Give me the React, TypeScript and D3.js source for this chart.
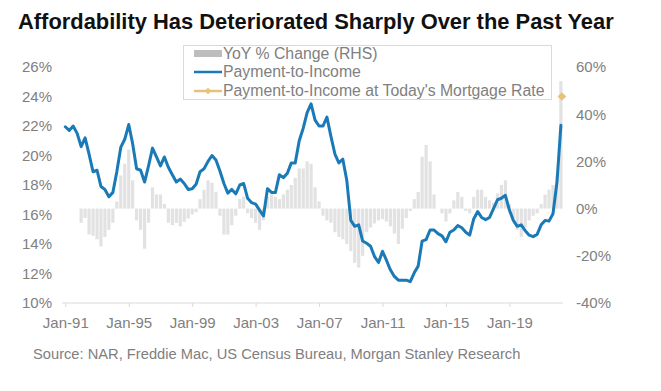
import { useEffect, useRef } from 'react'
import * as d3 from 'd3'

// quarterly readings, Jan-91 .. Apr-22
const START_YEAR = 1991

const paymentToIncome = [
  21.95, 21.7, 22.0, 21.5, 20.6, 21.2, 20.1, 18.9, 19.0, 17.9,
  17.7, 17.2, 17.5, 18.9, 20.55, 21.1, 22.1, 20.8, 19.1, 19.0,
  18.2, 19.3, 20.5, 19.9, 19.3, 19.9, 19.2, 18.7, 18.2, 18.4,
  18.1, 17.7, 17.75, 18.05, 18.9, 19.1, 19.6, 20.0, 19.7, 18.95,
  18.1, 17.45, 17.7, 17.4, 18.0, 18.1, 17.1, 16.8, 16.7, 16.3,
  15.9, 17.75, 17.5, 17.5, 18.7, 18.5, 18.8, 19.5, 19.5, 21.0,
  21.85, 22.9, 23.5, 22.4, 22.0, 22.0, 22.6, 21.3, 20.1, 19.5,
  19.75, 18.3, 15.6, 15.2, 15.3, 14.2, 14.05, 13.85, 13.15, 12.75,
  13.5, 12.9, 12.25, 11.8, 11.55, 11.55, 11.55, 11.45, 12.05, 12.5,
  14.2, 14.3, 14.95, 14.95, 14.7, 14.55, 14.15, 14.8, 14.95, 15.25,
  15.1, 14.8, 14.6, 15.7, 16.2, 15.8, 15.65, 15.8, 16.4, 17.0,
  17.1, 17.3, 16.3, 15.6, 15.2, 15.3, 14.9, 14.6, 14.5, 14.65,
  15.3, 15.6, 15.55, 16.05, 18.2, 22.05,
]

// YoY % change, starts Jan-92 (quarter index 4)
const yoyChange = [
  -6, -4, -11, -11.5, -13, -16, -12, -9, -6, 3,
  14, 19, 25, 12, -5, -9, -17, -6, 9, 6,
  6, 2, -6, -7, -6, -7.5, -5.6, -4.2, -2.5, -1.5,
  4, 8, 12, 11, 7, -3, -11, -11, -7, -3,
  4, 5, -2, -4, -6, -9, -5, 5, 6, 5,
  4, 6, 8, 10, 13, 17, 17, 20, 19, 9,
  3, -3, -5, -6, -10, -12, -13, -15, -18, -23,
  -25, -20, -10, -8, -6.3, -5, -4.5, -5.5, -7.5, -10.6,
  -15, -8.5, -4, -1, 4, 7, 22, 27, 20, 6,
  0, -2, -5.5, -2, 3.5, 7, 5, -1, -2, 5,
  8, 8, 5, 3.5, 2.5, 6.5, 10, 12, 2, -4,
  -9, -12, -8, -5, -3, -2, 2, 6, 8, 10,
  14, 54,
]
const YOY_OFFSET = 4

const todayRateValue = 24.0

const leftTicks = [10, 12, 14, 16, 18, 20, 22, 24, 26]
const rightTicks = [-40, -20, 0, 20, 40, 60]
const xTickYears = [1991, 1995, 1999, 2003, 2007, 2011, 2015, 2019]

const legendItems = ['YoY % Change (RHS)', 'Payment-to-Income', "Payment-to-Income at Today's Mortgage Rate"]

const COLORS = {
  blue: '#1a7ab7',
  bar: '#e2e2e2',
  barLegend: '#bdbdbd',
  gold: '#e6c27a',
  text: '#808080',
  axis: '#d9d9d9',
}

const FONT = '"Liberation Sans", Arial, sans-serif'

const qDate = (k: number) => new Date(START_YEAR, k * 3, 1)

export default function App() {
  const svgRef = useRef<SVGSVGElement>(null)

  useEffect(() => {
    if (!svgRef.current) return
    const svg = d3.select(svgRef.current)
    svg.selectAll('*').remove()

    const lineData = paymentToIncome.map((v, k) => ({ date: qDate(k), v }))
    const barData = yoyChange.map((v, i) => ({ date: qDate(i + YOY_OFFSET), v }))
    const lastDate = qDate(paymentToIncome.length - 1)

    const x = d3.scaleTime().domain([qDate(0), lastDate]).range([65.3, 560.9])
    const yL = d3.scaleLinear().domain([10, 26]).range([303, 67])
    const yR = d3.scaleLinear().domain([-40, 60]).range([303, 67])

    // Title
    svg.append('text').attr('x', 18).attr('y', 29)
      .attr('font-family', FONT).attr('font-size', 21.9).attr('font-weight', 'bold').attr('fill', '#111')
      .text('Affordability Has Deteriorated Sharply Over the Past Year')

    // Bars (RHS)
    svg.append('g').selectAll('rect').data(barData).join('rect')
      .attr('x', d => x(d.date) - 1.6)
      .attr('width', 3.2)
      .attr('y', d => yR(Math.max(0, d.v)))
      .attr('height', d => Math.abs(yR(d.v) - yR(0)))
      .attr('fill', COLORS.bar)

    // X axis
    const xAxis = svg.append('g').attr('transform', `translate(0,${yL(10)})`)
      .call(d3.axisBottom(x)
        .tickValues(xTickYears.map(y => new Date(y, 0, 1)))
        .tickFormat(d => d3.timeFormat('%b-%y')(d as Date))
        .tickSize(4).tickSizeOuter(0).tickPadding(10))
    xAxis.select('.domain').attr('stroke', COLORS.axis).attr('d', `M${x(qDate(0)) - 3},0H${x(lastDate) + 2}`)
    xAxis.selectAll('.tick line').attr('stroke', COLORS.axis)
    xAxis.selectAll('.tick text').attr('fill', COLORS.text).attr('font-size', 15).attr('font-family', FONT)

    // Left axis
    const lAxis = svg.append('g').attr('transform', 'translate(55,0)')
      .call(d3.axisLeft(yL).tickValues(leftTicks).tickFormat(d => `${d}%`).tickSize(0).tickPadding(3))
    lAxis.select('.domain').remove()
    lAxis.selectAll('.tick text').attr('fill', COLORS.text).attr('font-size', 15).attr('font-family', FONT)

    // Right axis
    const rAxis = svg.append('g').attr('transform', 'translate(573,0)')
      .call(d3.axisRight(yR).tickValues(rightTicks).tickFormat(d => `${d}%`).tickSize(0).tickPadding(3))
    rAxis.select('.domain').remove()
    rAxis.selectAll('.tick text').attr('fill', COLORS.text).attr('font-size', 15).attr('font-family', FONT)

    // Payment-to-income line
    const line = d3.line<{ date: Date; v: number }>().x(d => x(d.date)).y(d => yL(d.v))
    svg.append('path').datum(lineData).attr('d', line)
      .attr('fill', 'none').attr('stroke', COLORS.blue).attr('stroke-width', 3)
      .attr('stroke-linejoin', 'round').attr('stroke-linecap', 'round')

    // Today's mortgage rate marker
    svg.append('path')
      .attr('d', d3.symbol(d3.symbolSquare, 38)())
      .attr('transform', `translate(${x(lastDate) + 1},${yL(todayRateValue)}) rotate(45)`)
      .attr('fill', COLORS.gold)

    // Legend
    const leg = svg.append('g').attr('transform', 'translate(183,45)')
    leg.append('rect').attr('x', 0.5).attr('y', 0.5).attr('width', 368).attr('height', 54)
      .attr('fill', '#fff').attr('stroke', COLORS.axis)
    leg.append('rect').attr('x', 11).attr('y', 5).attr('width', 28).attr('height', 7).attr('fill', COLORS.barLegend)
    leg.append('line').attr('x1', 11).attr('x2', 39).attr('y1', 27).attr('y2', 27)
      .attr('stroke', COLORS.blue).attr('stroke-width', 2.5)
    leg.append('line').attr('x1', 11).attr('x2', 39).attr('y1', 46).attr('y2', 46)
      .attr('stroke', COLORS.gold).attr('stroke-width', 2.5)
    leg.append('path').attr('d', d3.symbol(d3.symbolSquare, 22)())
      .attr('transform', 'translate(25,46) rotate(45)').attr('fill', COLORS.gold)
    leg.selectAll('text.item').data(legendItems).join('text')
      .attr('class', 'item')
      .attr('x', 40).attr('y', (_, i) => 13.5 + i * 18.8)
      .attr('font-family', FONT).attr('font-size', 15.8).attr('fill', COLORS.text)
      .text(d => d)

    // Source
    svg.append('text').attr('x', 33).attr('y', 359)
      .attr('font-family', FONT).attr('font-size', 14.7).attr('fill', COLORS.text)
      .text('Source: NAR, Freddie Mac, US Census Bureau, Morgan Stanley Research')
  }, [])

  return (
    <svg ref={svgRef} width={661} height={391}
      style={{ position: 'absolute', left: 0, top: 0, background: '#fff' }} />
  )
}
